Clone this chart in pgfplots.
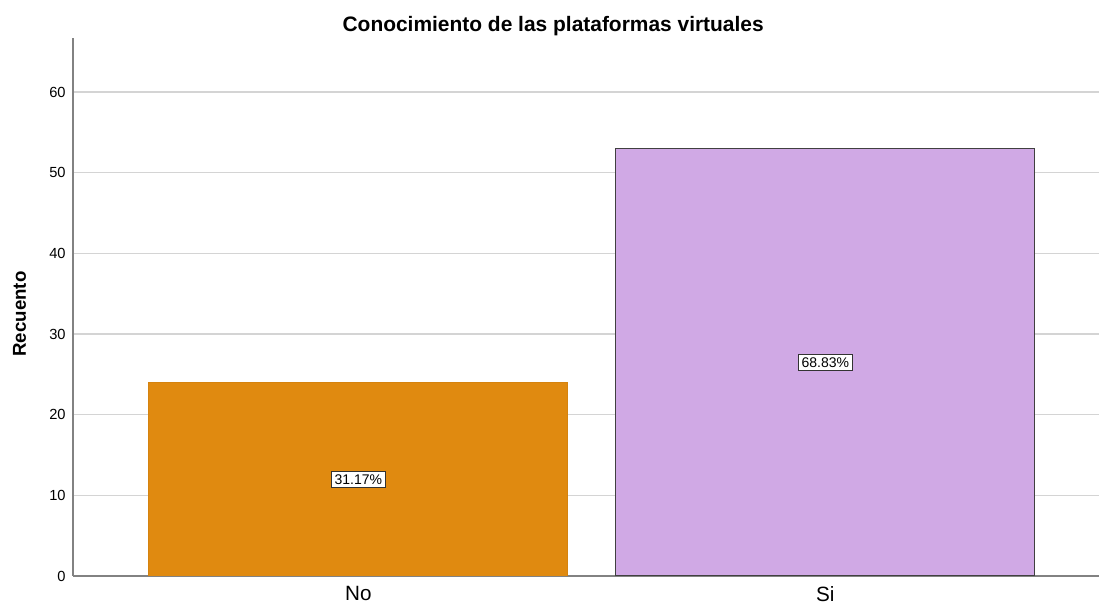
\documentclass[border=0pt]{standalone}
\usepackage{fontspec}
\setmainfont{Liberation Sans}
\usepackage{pgfplots}
\pgfplotsset{compat=1.18}
\definecolor{barNo}{RGB}{224,138,16}
\definecolor{barSi}{RGB}{208,169,229}
\definecolor{gridc}{RGB}{212,212,212}
\definecolor{axc}{RGB}{130,130,130}
\begin{document}
\begin{tikzpicture}
\begin{axis}[
  scale only axis, width=769.5pt, height=403.5pt,
  xmin=-0.611, xmax=1.586, ymin=0, ymax=66.7,
  axis x line=bottom, axis y line=left,
  axis line style={draw=axc, line width=1pt, -},
  xtick={0,1}, xticklabels={No,Si},
  ytick={0,10,20,30,40,50,60},
  major tick length=0pt,
  ymajorgrids=true, grid style={gridc, line width=1.1pt},
  /pgf/number format/assume math mode=true,
  yticklabel style={font=\fontsize{11}{12}\selectfont, xshift=-2pt},
  xticklabel style={font=\fontsize{15.5}{17}\selectfont, yshift=-4.5pt},
  ylabel={\textbf{Recuento}},
  ylabel style={font=\fontsize{14}{16}\selectfont, at={(axis description cs:-0.052,0.487)}, anchor=center},
  title={\textbf{Conocimiento de las plataformas virtuales}},
  title style={font=\fontsize{15.7}{17}\selectfont, at={(axis description cs:0.468,1)}, anchor=base, yshift=-1pt},
]
\addplot[ybar, bar width=0.897, bar shift=0pt, fill=barNo, draw=barNo!95!black, line width=0.6pt] coordinates {(0,24)};
\addplot[ybar, bar width=0.897, bar shift=0pt, fill=barSi, draw=black!75, line width=0.9pt] coordinates {(1,53)};
\addplot[draw=none, mark=none, nodes near coords, point meta=explicit symbolic,
  nodes near coords align=center,
  every node near coord/.append style={font=\fontsize{10.5}{11}\selectfont, fill=white, draw=black!80, line width=0.7pt, inner sep=2.4pt, anchor=center}]
  coordinates {(0,12) [31.17\%] (1,26.5) [68.83\%]};
\end{axis}
\pgfresetboundingbox
\path (-54.75pt,-21.75pt) rectangle (769.5pt,432pt);
\end{tikzpicture}
\end{document}
